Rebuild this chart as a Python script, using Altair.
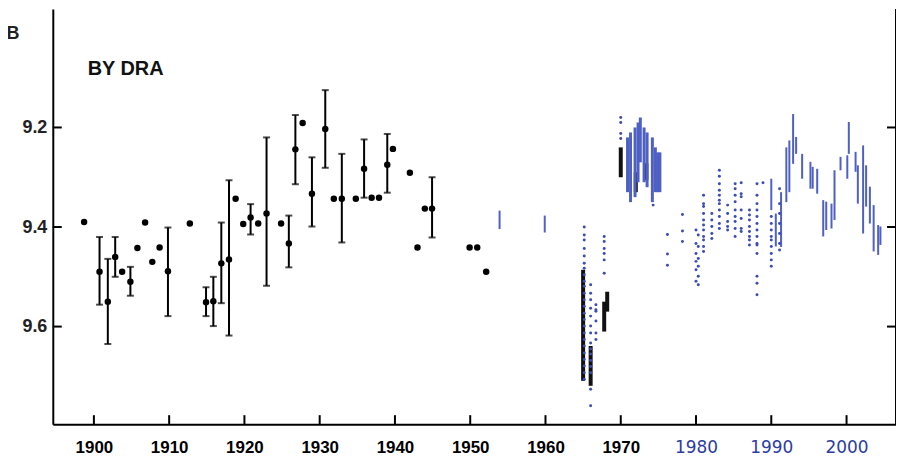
import altair as alt
import pandas as pd

# ---------------- data ----------------
# black points with error bars: year, magnitude, bar top, bar bottom
eb_year = [1900.75, 1901.85, 1902.83, 1904.85, 1909.84, 1914.9, 1915.87, 1916.93, 1917.95,
           1920.82, 1922.94, 1925.9, 1926.77, 1928.97, 1930.74, 1932.94, 1935.9, 1938.98, 1944.93]
eb_mag = [9.49, 9.55, 9.46, 9.51, 9.489, 9.551, 9.549, 9.473, 9.465,
          9.381, 9.373, 9.433, 9.244, 9.333, 9.203, 9.343, 9.283, 9.275, 9.363]
eb_top = [9.42, 9.464, 9.42, 9.48, 9.401, 9.521, 9.50, 9.391, 9.306,
          9.354, 9.22, 9.377, 9.175, 9.26, 9.125, 9.253, 9.224, 9.213, 9.30]
eb_bot = [9.556, 9.635, 9.50, 9.538, 9.579, 9.579, 9.599, 9.553, 9.618,
          9.415, 9.518, 9.481, 9.314, 9.399, 9.281, 9.431, 9.341, 9.331, 9.421]

# black points without error bars
pt_year = [1898.7, 1903.75, 1905.78, 1906.8, 1907.76, 1908.73, 1912.75, 1918.83, 1919.84,
           1921.83, 1924.87, 1927.74, 1931.88, 1934.8, 1936.9, 1937.88, 1939.73, 1941.98,
           1942.99, 1943.97, 1949.92, 1950.93, 1952.12]
pt_mag = [9.39, 9.49, 9.442, 9.391, 9.47, 9.441, 9.393, 9.343, 9.394,
          9.393, 9.393, 9.191, 9.343, 9.343, 9.341, 9.341, 9.243, 9.291,
          9.441, 9.363, 9.441, 9.441, 9.49]

# thick black photoelectric runs: year, top, bottom
bk_year = [1965.0, 1966.0, 1967.8, 1968.2, 1970.0, 1972.0, 1973.4]
bk_top = [9.486, 9.639, 9.55, 9.53, 9.24, 9.29, 9.272]
bk_bot = [9.709, 9.719, 9.61, 9.57, 9.30, 9.33, 9.306]

# blue vertical runs (dense seasons): year, top, bottom
bs_year = [1953.9, 1959.9,
           1970.9, 1971.3, 1971.9, 1972.3, 1972.6, 1973.1, 1973.5, 1974.2, 1974.6, 1974.9, 1975.2,
           1990.0, 1990.6, 1991.3, 1992.0, 1992.4, 1992.9, 1993.3, 1994.1, 1995.2, 1995.5, 1996.1,
           1996.9, 1997.3, 1998.0, 1998.4, 1999.2, 2000.1, 2000.3, 2001.2, 2001.5, 2002.2, 2002.6,
           2003.1, 2003.6, 2004.2, 2004.5]
bs_top = [9.367, 9.377,
          9.22, 9.21, 9.20, 9.19, 9.18, 9.20, 9.21, 9.22, 9.24, 9.25, 9.25,
          9.303, 9.373, 9.33, 9.24, 9.226, 9.173, 9.219, 9.253, 9.269, 9.279, 9.283,
          9.346, 9.349, 9.353, 9.286, 9.259, 9.256, 9.189, 9.249, 9.276, 9.236, 9.276,
          9.319, 9.356, 9.396, 9.399]
bs_bot = [9.404, 9.411,
          9.33, 9.35, 9.34, 9.31, 9.27, 9.31, 9.32, 9.35, 9.33, 9.33, 9.33,
          9.366, 9.439, 9.44, 9.35, 9.33, 9.273, 9.253, 9.303, 9.323, 9.323, 9.333,
          9.419, 9.406, 9.403, 9.386, 9.286, 9.303, 9.253, 9.289, 9.353, 9.413, 9.359,
          9.393, 9.449, 9.456, 9.436]
bs_width = [2, 2,
            3, 3, 3, 3, 3, 3, 3, 3, 3, 3, 3,
            2, 2, 2, 2, 2, 2, 2, 2, 2, 2, 2,
            2, 2, 2, 2, 2, 2, 2, 2, 2, 2, 2,
            2, 2, 2, 2]

# blue individual observations, grouped by season: (year, [magnitudes])
blue_cols = [
    (1965.15, [9.40, 9.416, 9.426, 9.443, 9.458, 9.473, 9.483, 9.496, 9.509, 9.519, 9.533, 9.546,
               9.559, 9.573, 9.586, 9.599, 9.613, 9.626, 9.639, 9.653, 9.666, 9.679, 9.693, 9.706]),
    (1966.0, [9.516, 9.533, 9.546, 9.563, 9.579, 9.599, 9.613, 9.633, 9.645, 9.655, 9.668, 9.68,
              9.693, 9.726, 9.759]),
    (1966.7, [9.556, 9.566, 9.569, 9.589, 9.613, 9.626]),
    (1967.8, [9.419, 9.429, 9.443, 9.453, 9.466, 9.493]),
    (1970.0, [9.18, 9.19, 9.212, 9.222]),
    (1974.3, [9.356]),
    (1976.2, [9.415, 9.454, 9.477]),
    (1978.2, [9.375, 9.408, 9.429]),
    (1980.0, [9.406, 9.433, 9.453, 9.469, 9.486, 9.509]),
    (1980.3, [9.416, 9.439, 9.463, 9.479, 9.499, 9.516]),
    (1981.0, [9.336, 9.353, 9.359, 9.373, 9.386, 9.396, 9.406, 9.419, 9.426, 9.439, 9.449]),
    (1982.1, [9.373, 9.386, 9.399, 9.413, 9.423]),
    (1983.1, [9.286, 9.298, 9.313, 9.326, 9.336, 9.346, 9.353, 9.366, 9.379, 9.393, 9.403]),
    (1984.2, [9.356, 9.373, 9.389, 9.399, 9.406]),
    (1985.2, [9.313, 9.323, 9.336, 9.349, 9.366, 9.379, 9.389, 9.403, 9.419]),
    (1986.0, [9.311, 9.333, 9.339, 9.366, 9.383, 9.403, 9.409]),
    (1987.1, [9.366, 9.376, 9.386, 9.399, 9.409, 9.419, 9.426, 9.436]),
    (1988.1, [9.313, 9.336, 9.353, 9.366, 9.379, 9.393, 9.406, 9.419, 9.433, 9.436, 9.453,
              9.499, 9.513, 9.536]),
    (1988.9, [9.311]),
    (1990.0, [9.379, 9.393, 9.406, 9.419, 9.426, 9.439, 9.453, 9.466, 9.479]),
    (1991.1, [9.323, 9.353, 9.373, 9.393, 9.413, 9.433, 9.446]),
]

x_ticks = [1900, 1910, 1920, 1930, 1940, 1950, 1960, 1970, 1980, 1990, 2000]
y_ticks = [9.2, 9.4, 9.6]

# ---------------- tables ----------------
eb = pd.DataFrame({"year": eb_year, "mag": eb_mag, "top": eb_top, "bot": eb_bot})
caps = pd.DataFrame({"year": eb_year + eb_year, "top": eb_top + eb_bot})
pts = pd.DataFrame({"year": pt_year + eb_year, "top": pt_mag + eb_mag})
bk = pd.DataFrame({"year": bk_year, "top": bk_top, "bot": bk_bot})
bs = pd.DataFrame({"year": bs_year, "top": bs_top, "bot": bs_bot, "w": bs_width})
bd_year, bd_mag = [], []
for yr, mags in blue_cols:
    for m in mags:
        bd_year.append(yr)
        bd_mag.append(m)
bd = pd.DataFrame({"year": bd_year, "top": bd_mag})
xt = pd.DataFrame({"year": x_ticks})
yt = pd.DataFrame({"top": y_ticks})
one = pd.DataFrame({"a": [0]})

W, H = 847, 417
xs = alt.Scale(domain=[1894.54, 2006.57], nice=False, zero=False)
ys = alt.Scale(domain=[8.962, 9.796], reverse=True, nice=False, zero=False)
BLUE_DOT = "#3b4cb3"
BLUE_SEG = "#4f60c4"
BLUE_TXT = "#2c3ca3"

x_axis = alt.Axis(
    values=x_ticks, format="d", title=None, grid=False, ticks=False,
    domainColor="black", domainWidth=2, labelPadding=15, labelFontSize=17,
    labelColor=alt.condition("datum.value >= 1980", alt.value(BLUE_TXT), alt.value("black")),
    labelFont=alt.condition("datum.value >= 1980", alt.value("DejaVu Sans"), alt.value("Liberation Sans")),
    labelFontWeight=alt.condition("datum.value >= 1980", alt.value("normal"), alt.value("bold")),
)
y_axis = alt.Axis(
    values=y_ticks, format=".1f", title=None, grid=False, ticks=False,
    domainColor="black", domainWidth=2, labelPadding=6, labelFontSize=18,
    labelFont="Liberation Sans", labelFontWeight="bold", labelColor="#222222",
)


def X():
    return alt.X("year:Q", scale=xs, axis=x_axis)


def Y():
    return alt.Y("top:Q", scale=ys, axis=y_axis)


bars = alt.Chart(eb).mark_rule(color="black", strokeWidth=2).encode(x=X(), y=Y(), y2="bot:Q")
cap_layer = alt.Chart(caps).mark_tick(color="black", orient="horizontal", size=7, thickness=2).encode(
    x=X(), y=Y())
dots = alt.Chart(pts).mark_circle(color="black", size=42, opacity=1).encode(x=X(), y=Y())
black_runs = alt.Chart(bk).mark_rule(color="#111111", strokeWidth=4).encode(x=X(), y=Y(), y2="bot:Q")
blue_runs = alt.Chart(bs).mark_rule(color=BLUE_SEG).encode(
    x=X(), y=Y(), y2="bot:Q",
    strokeWidth=alt.StrokeWidth("w:Q", scale=None, legend=None))
blue_dots = alt.Chart(bd).mark_circle(color=BLUE_DOT, size=9, opacity=1).encode(x=X(), y=Y())
xtick = alt.Chart(xt).mark_rule(color="black", strokeWidth=2).encode(
    x=X(), y=alt.value(H), y2=alt.value(H - 9))
ytick_l = alt.Chart(yt).mark_rule(color="black", strokeWidth=2).encode(
    y=Y(), x=alt.value(0), x2=alt.value(9))
ytick_r = alt.Chart(yt).mark_rule(color="black", strokeWidth=2).encode(
    y=Y(), x=alt.value(W), x2=alt.value(W - 9))
right_border = alt.Chart(one).mark_rule(color="black", strokeWidth=2).encode(
    x=alt.value(W), y=alt.value(0), y2=alt.value(H))
label_b = alt.Chart(one).mark_text(
    text="B", font="Liberation Sans", fontSize=18, fontWeight="bold", color="#222222",
    align="center", baseline="middle",
).encode(x=alt.value(-40), y=alt.value(25))
label_star = alt.Chart(one).mark_text(
    text="BY DRA", font="Liberation Sans", fontSize=20, fontWeight="bold", color="#111111",
    align="left", baseline="middle",
).encode(x=alt.value(35), y=alt.value(60))

chart = alt.layer(
    bars, cap_layer, dots, black_runs, blue_runs, blue_dots,
    xtick, ytick_l, ytick_r, right_border, label_b, label_star,
).properties(
    width=W, height=H,
    padding={"left": 45, "top": 0, "right": 0, "bottom": 32},
    autosize=alt.AutoSizeParams(type="none"),
).configure_view(stroke=None)

chart.save("out.html", embed_options={"renderer": "svg", "actions": False})
